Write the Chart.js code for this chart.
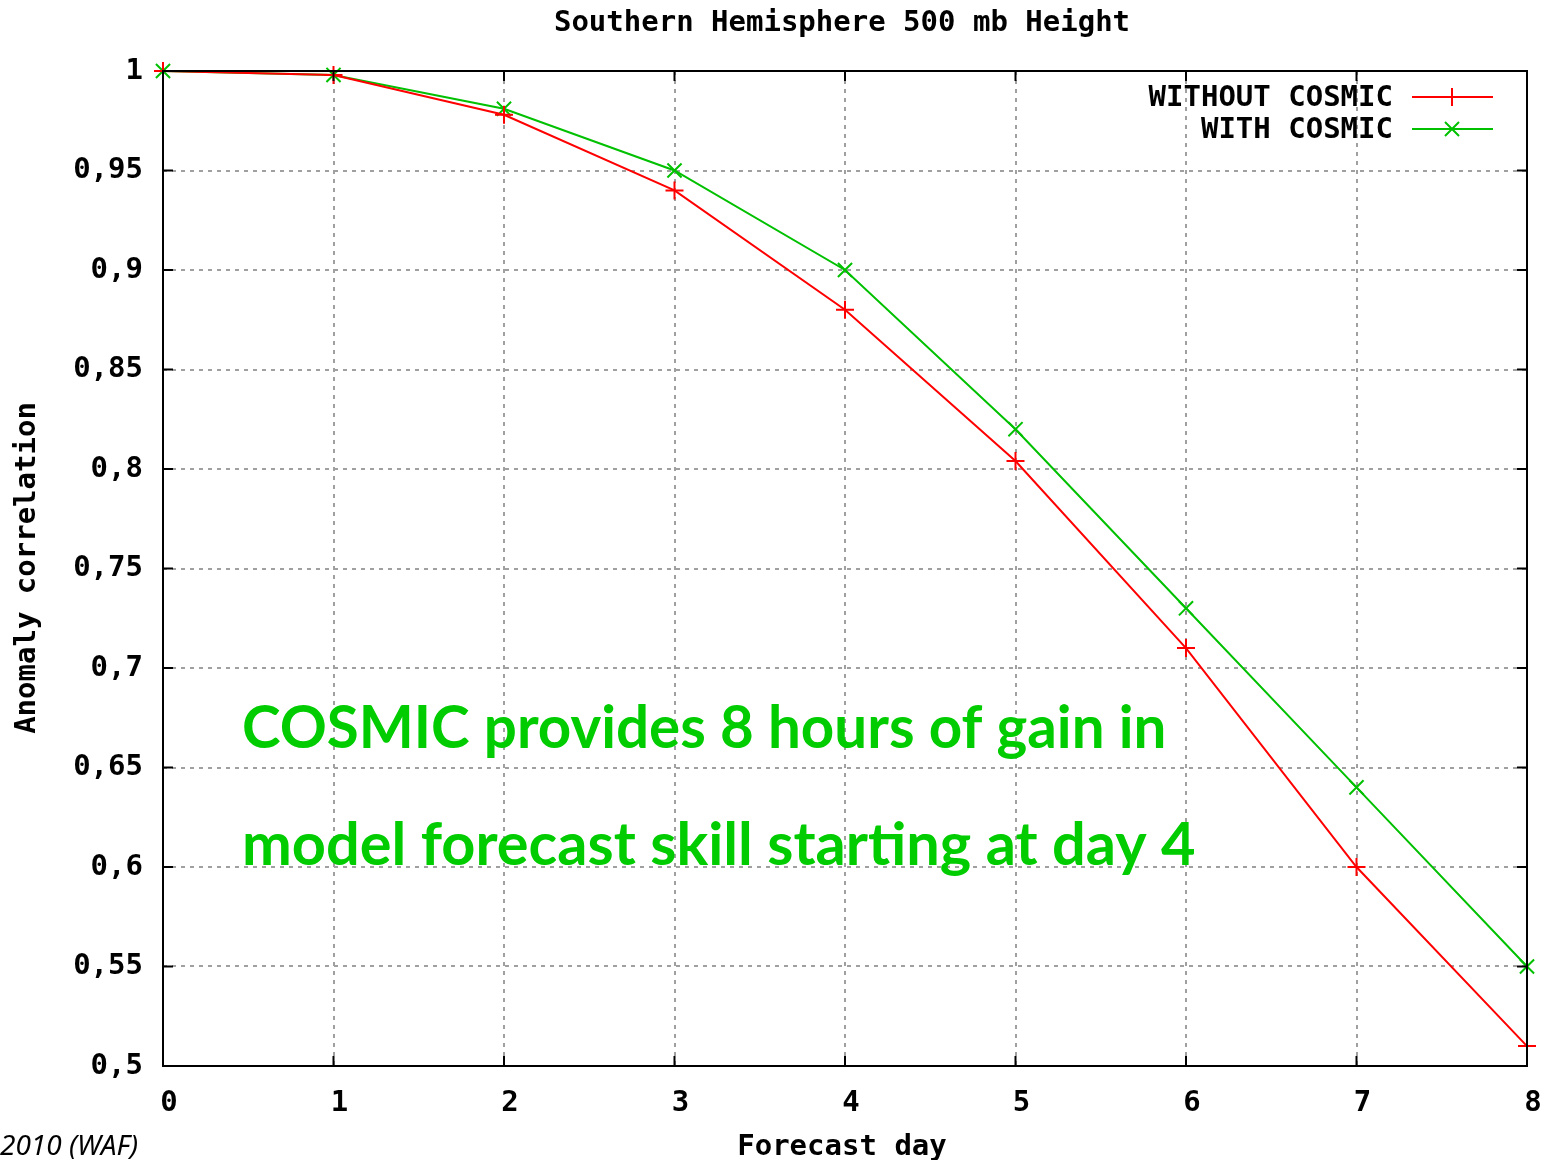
<!DOCTYPE html>
<html>
<head>
<meta charset="utf-8">
<script src="https://cdn.jsdelivr.net/npm/chart.js@4/dist/chart.umd.min.js"></script>
<style>
html,body{margin:0;padding:0;background:#fff;}
#wrap{width:1547px;height:1160px;position:relative;}
</style>
</head>
<body>
<div id="wrap"><canvas id="c" width="1547" height="1160"></canvas></div>
<script>
const forecastDays = [0, 1, 2, 3, 4, 5, 6, 7, 8];
const withoutCosmic = [1.000, 0.998, 0.978, 0.940, 0.880, 0.804, 0.710, 0.600, 0.510];
const withCosmic    = [1.000, 0.998, 0.981, 0.950, 0.900, 0.820, 0.730, 0.640, 0.550];
const yTickValues = [0.5, 0.55, 0.6, 0.65, 0.7, 0.75, 0.8, 0.85, 0.9, 0.95, 1];
const yTickLabels = ["0,5", "0,55", "0,6", "0,65", "0,7", "0,75", "0,8", "0,85", "0,9", "0,95", "1"];
const xTickLabels = ["0", "1", "2", "3", "4", "5", "6", "7", "8"];
const seriesNames = ["WITHOUT COSMIC", "WITH COSMIC"];
const chartTitle = "Southern Hemisphere 500 mb Height";
const xTitle = "Forecast day";
const yTitle = "Anomaly correlation";
const noteLines = ["COSMIC provides 8 hours of gain in", "model forecast skill starting at day 4"];
const footer = "2010 (WAF)";

const MONO = "bold 29px 'DejaVu Sans Mono', monospace";
const RED = "#ff0000";
const GREEN = "#00c000";

const extras = {
  id: 'extras',
  afterDraw(chart) {
    const ctx = chart.ctx;
    const a = chart.chartArea;
    const xs = chart.scales.x, ys = chart.scales.y;
    ctx.save();
    // border
    ctx.strokeStyle = '#000';
    ctx.lineWidth = 2;
    ctx.setLineDash([]);
    ctx.strokeRect(a.left, a.top, a.right - a.left, a.bottom - a.top);
    // inward ticks
    ctx.beginPath();
    forecastDays.forEach(d => {
      const px = xs.getPixelForValue(d);
      ctx.moveTo(px, a.bottom); ctx.lineTo(px, a.bottom - 10);
      ctx.moveTo(px, a.top); ctx.lineTo(px, a.top + 10);
    });
    yTickValues.forEach(v => {
      const py = ys.getPixelForValue(v);
      ctx.moveTo(a.left, py); ctx.lineTo(a.left + 10, py);
      ctx.moveTo(a.right, py); ctx.lineTo(a.right - 10, py);
    });
    ctx.stroke();

    // title
    ctx.fillStyle = '#000';
    ctx.font = MONO;
    ctx.textAlign = 'center';
    ctx.textBaseline = 'middle';
    ctx.fillText(chartTitle, 842, 23);
    ctx.fillText(xTitle, 842, 1147);
    ctx.save();
    ctx.translate(27, 568);
    ctx.rotate(-Math.PI / 2);
    ctx.fillText(yTitle, 0, 0);
    ctx.restore();

    // legend
    const rows = [
      {name: seriesNames[0], color: RED, y: 98, style: 'plus'},
      {name: seriesNames[1], color: GREEN, y: 130, style: 'x'}
    ];
    rows.forEach(r => {
      ctx.fillStyle = '#000';
      ctx.textAlign = 'right';
      ctx.fillText(r.name, 1393, r.y);
      ctx.strokeStyle = r.color;
      ctx.lineWidth = 2;
      ctx.beginPath();
      ctx.moveTo(1412, r.y - 1); ctx.lineTo(1493, r.y - 1);
      if (r.style === 'plus') {
        ctx.moveTo(1452, r.y - 10); ctx.lineTo(1452, r.y + 8);
      } else {
        ctx.moveTo(1445, r.y - 8); ctx.lineTo(1459, r.y + 6);
        ctx.moveTo(1445, r.y + 6); ctx.lineTo(1459, r.y - 8);
      }
      ctx.stroke();
    });

    // annotation
    ctx.fillStyle = '#00cc00';
    ctx.textAlign = 'left';
    ctx.textBaseline = 'alphabetic';
    const targets = [925, 954];
    const ys2 = [748, 865];
    noteLines.forEach((t, i) => {
      let fs = 50;
      ctx.font = "bold " + fs + "px Lato, 'Open Sans', sans-serif";
      const w = ctx.measureText(t).width;
      fs = fs * targets[i] / w;
      ctx.font = "bold " + fs.toFixed(1) + "px Lato, 'Open Sans', sans-serif";
      ctx.fillText(t, 242, ys2[i]);
    });

    // footer
    ctx.fillStyle = '#000';
    ctx.font = "italic 28px 'Noto Sans', 'Open Sans', sans-serif";
    ctx.textAlign = 'right';
    ctx.fillText(footer, 138, 1155);
    ctx.restore();
  }
};

new Chart(document.getElementById('c'), {
  type: 'line',
  data: {
    datasets: [
      {
        label: seriesNames[0],
        data: forecastDays.map((d, i) => ({x: d, y: withoutCosmic[i]})),
        borderColor: RED,
        backgroundColor: RED,
        borderWidth: 2,
        pointStyle: 'cross',
        pointRadius: 9,
        pointBorderWidth: 2,
        pointBorderColor: RED,
        tension: 0,
        clip: false
      },
      {
        label: seriesNames[1],
        data: forecastDays.map((d, i) => ({x: d, y: withCosmic[i]})),
        borderColor: GREEN,
        backgroundColor: GREEN,
        borderWidth: 2,
        pointStyle: 'crossRot',
        pointRadius: 10,
        pointBorderWidth: 2,
        pointBorderColor: GREEN,
        tension: 0,
        clip: false
      }
    ]
  },
  options: {
    responsive: false,
    animation: false,
    layout: {padding: {top: 71, right: 20, bottom: 0, left: 0}},
    plugins: {legend: {display: false}, title: {display: false}, tooltip: {enabled: false}},
    scales: {
      x: {
        type: 'linear',
        min: 0, max: 8,
        afterFit(s) { s.height = 94; s.paddingLeft = 0; s.paddingRight = 0; },
        afterBuildTicks(s) { s.ticks = forecastDays.map(v => ({value: v})); },
        ticks: {
          color: '#000',
          font: {family: "'DejaVu Sans Mono', monospace", size: 29, weight: 'bold'},
          padding: 20,
          labelOffset: 6,
          maxRotation: 0,
          autoSkip: false,
          callback: (v) => xTickLabels[forecastDays.indexOf(v)]
        },
        grid: {
          drawTicks: false,
          color: (c) => (c.tick && (c.tick.value === 0 || c.tick.value === 8)) ? 'rgba(0,0,0,0)' : '#a0a0a0',
          lineWidth: 2
        },
        border: {display: false, dash: [4, 5]}
      },
      y: {
        type: 'linear',
        min: 0.5, max: 1,
        afterFit(s) { s.width = 163; s.paddingTop = 0; s.paddingBottom = 0; },
        afterBuildTicks(s) { s.ticks = yTickValues.map(v => ({value: v})); },
        ticks: {
          color: '#000',
          font: {family: "'DejaVu Sans Mono', monospace", size: 29, weight: 'bold'},
          padding: 20,
          autoSkip: false,
          callback: (v) => {
            const i = yTickValues.findIndex(t => Math.abs(t - v) < 1e-9);
            return i >= 0 ? yTickLabels[i] : '';
          }
        },
        grid: {
          drawTicks: false,
          color: (c) => (c.tick && (Math.abs(c.tick.value - 0.5) < 1e-9 || Math.abs(c.tick.value - 1) < 1e-9)) ? 'rgba(0,0,0,0)' : '#a0a0a0',
          lineWidth: 2
        },
        border: {display: false, dash: [4, 5]}
      }
    }
  },
  plugins: [extras]
});
</script>
</body>
</html>
